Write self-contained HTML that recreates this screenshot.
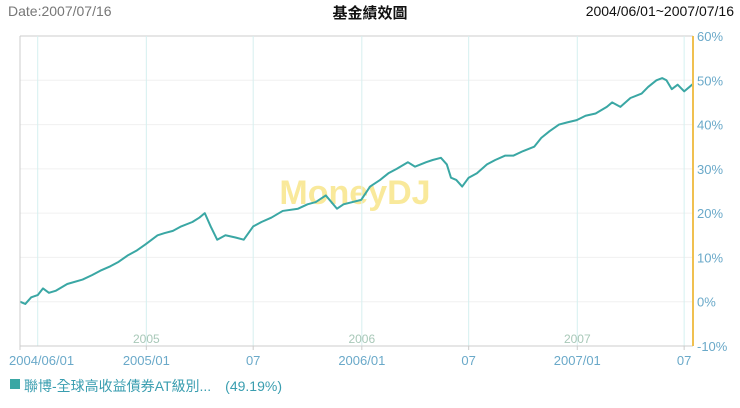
<!DOCTYPE html>
<html><head><meta charset="utf-8"><style>
body{margin:0;background:#fff;width:740px;height:408px;overflow:hidden;font-family:"Liberation Sans","Noto Sans CJK TC",sans-serif}
</style></head><body>
<svg id="c" width="740" height="408" style="position:absolute;left:0;top:0">
<text x="8" y="16" font-size="14" fill="#777">Date:2007/07/16</text>
<text x="370" y="18" font-size="15" font-weight="bold" fill="#111" text-anchor="middle" font-family="'Liberation Sans','Noto Sans CJK TC',sans-serif">基金績效圖</text>
<text x="734" y="16" font-size="14" fill="#111" text-anchor="end">2004/06/01~2007/07/16</text>
<text x="355" y="204" font-size="34" font-weight="bold" fill="#f7e27a" fill-opacity="0.75" text-anchor="middle">MoneyDJ</text>
<g id="grid"></g><g id="series"></g><g id="axes"></g>
<rect x="10" y="379" width="10" height="10" fill="#3aa7a4"/>
<text x="24" y="391" font-size="14" fill="#3a9eb0">聯博-全球高收益債券AT級別...　(49.19%)</text>
</svg>
<script>
const dates=["2004-06-01","2004-06-10","2004-06-20","2004-07-01","2004-07-10","2004-07-20","2004-08-01","2004-08-20","2004-09-15","2004-10-01","2004-10-15","2004-11-01","2004-11-15","2004-12-01","2004-12-15","2004-12-31","2005-01-20","2005-02-01","2005-02-15","2005-03-01","2005-03-20","2005-04-01","2005-04-10","2005-04-20","2005-05-01","2005-05-15","2005-06-01","2005-06-15","2005-07-01","2005-07-15","2005-08-01","2005-08-20","2005-09-15","2005-10-01","2005-10-15","2005-11-01","2005-11-20","2005-12-01","2005-12-31","2006-01-15","2006-02-01","2006-02-15","2006-03-01","2006-03-20","2006-04-01","2006-04-20","2006-05-01","2006-05-15","2006-05-25","2006-06-01","2006-06-10","2006-06-20","2006-07-01","2006-07-15","2006-08-01","2006-08-15","2006-09-01","2006-09-15","2006-10-01","2006-10-20","2006-11-01","2006-11-15","2006-12-01","2006-12-15","2006-12-31","2007-01-15","2007-02-01","2007-02-20","2007-03-01","2007-03-15","2007-04-01","2007-04-20","2007-05-01","2007-05-15","2007-05-25","2007-06-01","2007-06-10","2007-06-20","2007-07-01","2007-07-10","2007-07-16"];
const values=[0,-0.5,1,1.5,3,2,2.5,4,5,6,7,8,9,10.5,11.5,13,15,15.5,16,17,18,19,20,17,14,15,14.5,14,17,18,19,20.5,21,22,22.5,24,21,22,23,26,27.5,29,30,31.5,30.5,31.5,32,32.5,31,28,27.5,26,28,29,31,32,33,33,34,35,37,38.5,40,40.5,41,42,42.5,44,45,44,46,47,48.5,50,50.5,50,48,49,47.5,48.5,49.19];
const yTicks=[-10,0,10,20,30,40,50,60];
const xTickDates=["2004-06-01","2005-01-01","2005-07-01","2006-01-01","2006-07-01","2007-01-01","2007-07-01"];
const xTickLabels=["2004/06/01","2005/01","07","2006/01","07","2007/01","07"];
const yearDates=["2005-01-01","2006-01-01","2007-01-01"];
const yearLabels=["2005","2006","2007"];
const gridDates=["2004-07-01","2005-01-01","2005-07-01","2006-01-01","2006-07-01","2007-01-01","2007-07-01"];

const X0=20,X1=693,Y0=346,Y1=36;
const t0=Date.parse("2004-06-01"),t1=Date.parse("2007-07-16");
const x=d=>X0+(Date.parse(d)-t0)/(t1-t0)*(X1-X0);
const y=v=>Y0-(v+10)/70*(Y0-Y1);
const NS="http://www.w3.org/2000/svg";
function mk(p,tag,a){const e=document.createElementNS(NS,tag);for(const k in a)e.setAttribute(k,a[k]);p.appendChild(e);return e;}
const grid=document.getElementById('grid'),axes=document.getElementById('axes'),series=document.getElementById('series');
yTicks.forEach(v=>{
  const l=mk(grid,'line',{x1:X0,x2:X1,y1:y(v),y2:y(v),stroke:v==60?'#ddd':'#f0f0f0','stroke-width':v==60?1.5:1});
  
  
  const t=mk(axes,'text',{x:697,y:y(v)+5,'font-size':13,fill:'#6aa9c9'});
  t.textContent=v+'%';
  
  
});
gridDates.forEach(d=>{
  const l=mk(grid,'line',{x1:x(d),x2:x(d),y1:Y1,y2:Y0,stroke:'#d6f0f0','stroke-width':1});
  
  
});
yearDates.forEach((d,i)=>{
  const t=mk(grid,'text',{x:x(d),y:343,'font-size':12,fill:'#a8c8b8','text-anchor':'middle'});
  t.textContent=yearLabels[i];
  
  
});
let l=mk(axes,'line',{x1:X0,x2:X0,y1:Y1,y2:Y0,stroke:'#ccc'});


l=mk(axes,'line',{x1:X0,x2:X1,y1:Y0,y2:Y0,stroke:'#ccc'});


l=mk(axes,'line',{x1:X1,x2:X1,y1:Y1,y2:Y0,stroke:'#f0c050','stroke-width':2});


xTickDates.forEach((d,i)=>{
  const tk=mk(axes,'line',{x1:x(d),x2:x(d),y1:Y0,y2:Y0+4,stroke:'#ccc'});
  
  
  const t=mk(axes,'text',{x:i==0?9:x(d),y:365,'font-size':13,fill:'#6aa9c9','text-anchor':i==0?'start':'middle'});
  t.textContent=xTickLabels[i];
  
  
});
const pl=mk(series,'polyline',{points:dates.map((d,i)=>x(d)+','+y(values[i])).join(' '),fill:'none',stroke:'#3aa7a4','stroke-width':2,'stroke-linejoin':'round'});


</script>
</body></html>
